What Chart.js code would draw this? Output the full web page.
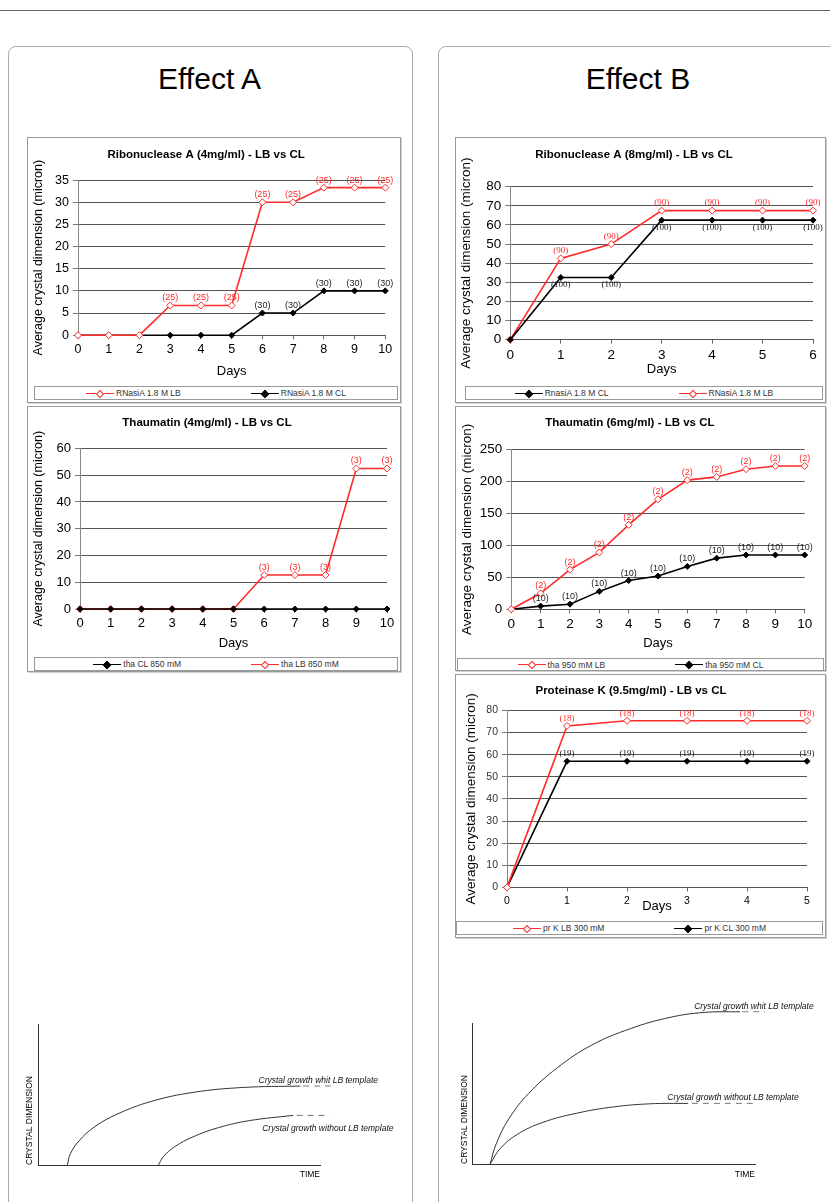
<!DOCTYPE html>
<html>
<head>
<meta charset="utf-8">
<script src="https://cdn.jsdelivr.net/npm/chart.js@4.4.1/dist/chart.umd.min.js"></script>
<style>
  body { margin: 0; background: #fff; width: 830px; height: 1202px; position: relative; overflow: hidden; font-family: 'Liberation Sans', Arial, sans-serif; }
  .abs { position: absolute; }
  .rule { left: 0; top: 10px; width: 830px; height: 0; border-top: 1.5px solid #666; }
  .panel { border: 1.5px solid #aaa; border-radius: 8px; height: 1200px; }
  .effect { font-size: 30px; color: #000; text-align: center; }
  .box { border: 1px solid #999; box-shadow: 1px 1px 0 #d0d0d0; box-sizing: border-box; }
  .legend { border: 1px solid #999; box-sizing: border-box; display: flex; justify-content: center; align-items: center; gap: 70px; font-size: 8.5px; color: #333; }
  .legend .item { display: inline-flex; align-items: center; }
  .legend .mk { position: relative; width: 28px; height: 8px; margin-right: 2px; }
  .legend .ln { position: absolute; left: 0; right: 0; top: 3.5px; border-top: 1.5px solid; }
  .legend .dm { position: absolute; left: 11px; top: 1.5px; width: 4px; height: 4px; transform: rotate(45deg); border: 1px solid; }
</style>
</head>
<body>
<div class="abs rule"></div>
<div class="abs panel" style="left:8px;top:46px;width:403px;"></div>
<div class="abs panel" style="left:438px;top:46px;width:420px;"></div>
<div class="abs effect" style="left:8px;top:62px;width:403px;">Effect A</div>
<div class="abs effect" style="left:438px;top:62px;width:400px;">Effect B</div>

<div class="abs box" style="left:27px;top:137px;width:374px;height:266px;"></div>
<div class="abs box" style="left:27px;top:406px;width:374px;height:266px;"></div>
<div class="abs box" style="left:455px;top:137px;width:371px;height:266px;"></div>
<div class="abs box" style="left:455px;top:406px;width:371px;height:265px;"></div>
<div class="abs box" style="left:455px;top:674px;width:371px;height:264px;"></div>

<canvas id="ribo4" class="abs" style="left:27px;top:138px;"></canvas>
<canvas id="thau4" class="abs" style="left:27px;top:407px;"></canvas>
<canvas id="ribo8" class="abs" style="left:455px;top:138px;"></canvas>
<canvas id="thau6" class="abs" style="left:455px;top:407px;"></canvas>
<canvas id="protK" class="abs" style="left:455px;top:676px;"></canvas>

<div id="ribo4-legend" class="abs legend" style="left:34px;top:386px;width:364px;height:14px;"></div>
<div id="thau4-legend" class="abs legend" style="left:34px;top:657px;width:364px;height:14px;"></div>
<div id="ribo8-legend" class="abs legend" style="left:465px;top:386px;width:358px;height:14px;"></div>
<div id="thau6-legend" class="abs legend" style="left:457px;top:658px;width:367px;height:13px;"></div>
<div id="protK-legend" class="abs legend" style="left:456px;top:921px;width:367px;height:14px;"></div>

<canvas id="sketchA" class="abs" style="left:14px;top:1000px;"></canvas>
<canvas id="sketchB" class="abs" style="left:444px;top:995px;"></canvas>

<script>
// ---- Data ----
const days10 = ['0', '1', '2', '3', '4', '5', '6', '7', '8', '9', '10'];
const days6 = ['0', '1', '2', '3', '4', '5', '6'];
const days5 = ['0', '1', '2', '3', '4', '5'];

// Ribonuclease A (4mg/ml)
const ribo4LB = [0, 0, 0, 6.7, 6.7, 6.7, 30, 30, 33.3, 33.3, 33.3];
const ribo4LBn = ['', '', '', '(25)', '(25)', '(25)', '(25)', '(25)', '(25)', '(25)', '(25)'];
const ribo4CL = [0, 0, 0, 0, 0, 0, 5, 5, 10, 10, 10];
const ribo4CLn = ['', '', '', '', '', '', '(30)', '(30)', '(30)', '(30)', '(30)'];

// Thaumatin (4mg/ml)
const thau4CL = [0, 0, 0, 0, 0, 0, 0, 0, 0, 0, 0];
const thau4LB = [0, 0, 0, 0, 0, 0, 12.7, 12.7, 12.7, 52.5, 52.5];
const thau4LBn = ['', '', '', '', '', '', '(3)', '(3)', '(3)', '(3)', '(3)'];

// Ribonuclease A (8mg/ml)
const ribo8CL = [0, 32.5, 32.5, 62.5, 62.5, 62.5, 62.5];
const ribo8CLn = ['', '(100)', '(100)', '(100)', '(100)', '(100)', '(100)'];
const ribo8LB = [0, 42.5, 50, 67.5, 67.5, 67.5, 67.5];
const ribo8LBn = ['', '(90)', '(90)', '(90)', '(90)', '(90)', '(90)'];

// Thaumatin (6mg/ml)
const thau6LB = [0, 25, 62, 89, 132, 172, 202, 207, 219, 224, 224];
const thau6LBn = ['', '(2)', '(2)', '(2)', '(2)', '(2)', '(2)', '(2)', '(2)', '(2)', '(2)'];
const thau6CL = [0, 5, 8, 28, 45, 52, 67, 80, 85, 85, 85];
const thau6CLn = ['', '(10)', '(10)', '(10)', '(10)', '(10)', '(10)', '(10)', '(10)', '(10)', '(10)'];

// Proteinase K (9.5mg/ml)
const protKLB = [0, 73, 75.3, 75.3, 75.3, 75.3];
const protKLBn = ['', '(18)', '(18)', '(18)', '(18)', '(18)'];
const protKCL = [0, 57, 57, 57, 57, 57];
const protKCLn = ['', '(19)', '(19)', '(19)', '(19)', '(19)'];

// Sketches (time, size)
const sketchAWith = [[10.4, 0], [11.5, 8], [14.5, 17], [20, 27], [28, 36], [40, 45], [55, 51.5], [72.8, 55], [93, 56]];
const sketchAWithDash = [[94, 56], [104.6, 56]];
const sketchAWithout = [[42.7, 0], [44.5, 6], [48.5, 13], [55, 20], [64, 26.5], [75, 31.5], [90.5, 35.2]];
const sketchAWithoutDash = [[91.7, 35.2], [103.5, 35.2]];
const sketchBWith = [[6.4, 0], [8.5, 14], [13, 32], [20, 50], [30, 68], [42, 84], [56, 96], [70, 104], [82, 107.5], [94.7, 108]];
const sketchBWithDash = [[95.5, 108], [103.5, 108]];
const sketchBWithout = [[6.4, 0], [10, 11], [16, 21], [25, 29.5], [37, 36], [50, 40.5], [63, 42.7], [76.4, 43]];
const sketchBWithoutDash = [[77.7, 43], [100, 43]];
const sketchANotes = [
  { x: 78.2, y: 58, text: 'Crystal growth whit LB template' },
  { x: 79.5, y: 24, text: 'Crystal growth without LB template' },
];
const sketchBNotes = [
  { x: 78.5, y: 110, text: 'Crystal growth whit LB template' },
  { x: 69, y: 45.4, text: 'Crystal growth without LB template' },
];

// ---- Styles ----
const RED = '#ff2a2a';
const BLACK = '#000';
const SANS = "'Liberation Sans', Arial, sans-serif";
const SERIF = "'Liberation Serif', 'DejaVu Serif', serif";

Chart.defaults.font.family = SANS;
Chart.defaults.color = '#000';
Chart.defaults.animation = false;

// draws the "(n)" counts next to each point
const pointCounts = {
  id: 'pointCounts',
  afterDatasetsDraw(chart, args, opts) {
    const { ctx } = chart;
    chart.data.datasets.forEach((ds, i) => {
      if (!ds.counts) return;
      const meta = chart.getDatasetMeta(i);
      ctx.save();
      ctx.font = `9px ${opts.family || SANS}`;
      ctx.fillStyle = ds.borderColor === BLACK ? '#222' : RED;
      ctx.textAlign = 'center';
      ctx.textBaseline = ds.below ? 'top' : 'bottom';
      meta.data.forEach((pt, j) => {
        if (!ds.counts[j]) return;
        ctx.fillText(ds.counts[j], pt.x, ds.below ? pt.y + 3 : pt.y - 3);
      });
      ctx.restore();
    });
  },
};

const series = (label, data, color, counts, below) => ({
  label,
  data,
  counts,
  below,
  borderColor: color,
  backgroundColor: color,
  borderWidth: 1.6,
  tension: 0,
  pointStyle: 'rectRot',
  pointRadius: color === BLACK ? 3 : 3.5,
  pointBackgroundColor: color === BLACK ? BLACK : '#fff',
  pointBorderColor: color,
  pointBorderWidth: 1,
  clip: 10,
});

function buildLegend(chart, id) {
  const box = document.getElementById(id);
  chart.data.datasets.forEach((ds) => {
    const item = document.createElement('span');
    item.className = 'item';
    const mk = document.createElement('span');
    mk.className = 'mk';
    const ln = document.createElement('span');
    ln.className = 'ln';
    ln.style.borderColor = ds.borderColor;
    const dm = document.createElement('span');
    dm.className = 'dm';
    dm.style.borderColor = ds.borderColor;
    dm.style.background = ds.pointBackgroundColor;
    mk.appendChild(ln);
    mk.appendChild(dm);
    item.appendChild(mk);
    item.appendChild(document.createTextNode(ds.label));
    box.appendChild(item);
  });
}

function dataChart(id, g, title, labels, datasets, y, countFamily) {
  const el = document.getElementById(id);
  el.width = g.w;
  el.height = g.h;
  const chart = new Chart(el, {
    type: 'line',
    data: { labels, datasets },
    options: {
      responsive: false,
      layout: { padding: { left: 0, right: g.padRight, top: 0, bottom: 0 } },
      scales: {
        x: {
          grid: { drawOnChartArea: false, tickLength: 4, color: '#666' },
          border: { color: '#555' },
          ticks: { font: { size: g.xTick }, padding: 3, maxRotation: 0, autoSkip: false },
          title: { display: true, text: 'Days', font: { size: 13 }, padding: { top: 0, bottom: 4 } },
          afterFit: (s) => { s.height = g.xHeight; },
        },
        y: {
          min: 0,
          max: y.max,
          grid: { color: '#555', tickLength: 5, tickColor: '#777' },
          border: { color: '#888' },
          ticks: { stepSize: y.step, autoSkip: false, font: { size: g.yTick }, color: g.yTickColor || '#000', padding: 4 },
          title: { display: true, text: 'Average crystal dimension (micron)', font: { size: g.yTitle }, padding: { top: g.yTitlePad, bottom: 0 } },
          afterFit: (s) => { s.width = g.yWidth; },
        },
      },
      plugins: {
        legend: { display: false },
        tooltip: { enabled: false },
        title: { display: true, text: title, font: { size: 11.5, weight: 'bold' }, padding: { top: g.tPad[0], bottom: g.tPad[1] } },
        pointCounts: { family: countFamily },
      },
    },
    plugins: [pointCounts],
  });
  buildLegend(chart, `${id}-legend`);
}

dataChart('ribo4',
  { w: 374, h: 245.5, padRight: 15.7, yWidth: 51, xHeight: 47.8, tPad: [10, 18.3], xTick: 12.5, yTick: 12.5, yTitle: 12.5, yTitlePad: 4 },
  'Ribonuclease A (4mg/ml) - LB vs CL', days10,
  [series('RNasiA 1.8 M LB', ribo4LB, RED, ribo4LBn), series('RNasiA 1.8 M CL', ribo4CL, BLACK, ribo4CLn)],
  { max: 35, step: 5 });

dataChart('thau4',
  { w: 374, h: 248, padRight: 14, yWidth: 53, xHeight: 46, tPad: [9, 18.6], xTick: 13, yTick: 13, yTitle: 12.5, yTitlePad: 4 },
  'Thaumatin (4mg/ml) - LB vs CL', days10,
  [series('tha CL 850 mM', thau4CL, BLACK), series('tha LB 850 mM', thau4LB, RED, thau4LBn)],
  { max: 60, step: 10 });

dataChart('ribo8',
  { w: 370, h: 243.3, padRight: 12, yWidth: 55.3, xHeight: 41.3, tPad: [10, 24.9], xTick: 13.5, yTick: 13.5, yTitle: 13.5, yTitlePad: 3 },
  'Ribonuclease A (8mg/ml) - LB vs CL', days6,
  [series('RnasiA 1.8 M CL', ribo8CL, BLACK, ribo8CLn, true), series('RNasiA 1.8 M LB', ribo8LB, RED, ribo8LBn)],
  { max: 80, step: 10 }, SERIF);

dataChart('thau6',
  { w: 370, h: 248.7, padRight: 20.3, yWidth: 56.3, xHeight: 45.7, tPad: [9, 19.6], xTick: 13.5, yTick: 13.5, yTitle: 13.5, yTitlePad: 4 },
  'Thaumatin (6mg/ml) - LB vs CL', days10,
  [series('tha 950 mM LB', thau6LB, RED, thau6LBn), series('tha 950 mM CL', thau6CL, BLACK, thau6CLn)],
  { max: 250, step: 50 });

dataChart('protK',
  { w: 370, h: 242.3, padRight: 18, yWidth: 52, xHeight: 30.6, tPad: [8, 12.6], xTick: 10.5, yTick: 10.5, yTickColor: '#333', yTitle: 13.5, yTitlePad: 8 },
  'Proteinase K (9.5mg/ml) - LB vs CL', days5,
  [series('pr K LB 300 mM', protKLB, RED, protKLBn), series('pr K CL 300 mM', protKCL, BLACK, protKCLn)],
  { max: 80, step: 10 }, SERIF);

// ---- Sketches ----
const sketchNotes = {
  id: 'sketchNotes',
  afterDatasetsDraw(chart, args, opts) {
    const { ctx, scales: { x, y } } = chart;
    ctx.save();
    ctx.font = `italic 8.5px ${SANS}`;
    ctx.fillStyle = '#111';
    ctx.textBaseline = 'alphabetic';
    opts.items.forEach((n) => ctx.fillText(n.text, x.getPixelForValue(n.x), y.getPixelForValue(n.y)));
    ctx.restore();
  },
};

const curve = (pts, dashed) => ({
  data: pts.map(([x, y]) => ({ x, y })),
  borderColor: dashed ? '#777' : '#333',
  borderWidth: 1,
  borderDash: dashed ? [6, 5] : [],
  pointRadius: 0,
  tension: 0.4,
  clip: false,
});

function sketch(id, g, sets, notes) {
  const el = document.getElementById(id);
  el.width = g.w;
  el.height = g.h;
  // eslint-disable-next-line no-new
  new Chart(el, {
    type: 'line',
    data: { datasets: sets },
    options: {
      responsive: false,
      layout: { padding: { left: 0, right: g.padRight, top: g.padTop, bottom: 0 } },
      scales: {
        x: {
          type: 'linear', min: 0, max: 100,
          grid: { display: false },
          border: { color: '#333', width: 1 },
          ticks: { display: false },
          title: { display: true, text: 'TIME', align: 'end', font: { size: 8.5 }, padding: { top: 0, bottom: 15 } },
          afterFit: (s) => { s.height = g.xHeight; },
        },
        y: {
          min: 0, max: 100,
          grid: { display: false },
          border: { color: '#333', width: 1 },
          ticks: { display: false },
          title: { display: true, text: 'CRYSTAL DIMENSION', align: 'start', font: { size: 8.5 }, padding: { top: g.yTitlePad, bottom: 0 } },
          afterFit: (s) => { s.width = g.yWidth; },
        },
      },
      plugins: {
        legend: { display: false },
        tooltip: { enabled: false },
        sketchNotes: { items: notes },
      },
    },
    plugins: [sketchNotes],
  });
}

sketch('sketchA', { w: 396, h: 195, padRight: 90, padTop: 24, yWidth: 24, xHeight: 30, yTitlePad: 11 },
  [curve(sketchAWith), curve(sketchAWithDash, true), curve(sketchAWithout), curve(sketchAWithoutDash, true)],
  sketchANotes);

sketch('sketchB', { w: 386, h: 200, padRight: 75, padTop: 28, yWidth: 28, xHeight: 31, yTitlePad: 16 },
  [curve(sketchBWith), curve(sketchBWithDash, true), curve(sketchBWithout), curve(sketchBWithoutDash, true)],
  sketchBNotes);
</script>
</body>
</html>
